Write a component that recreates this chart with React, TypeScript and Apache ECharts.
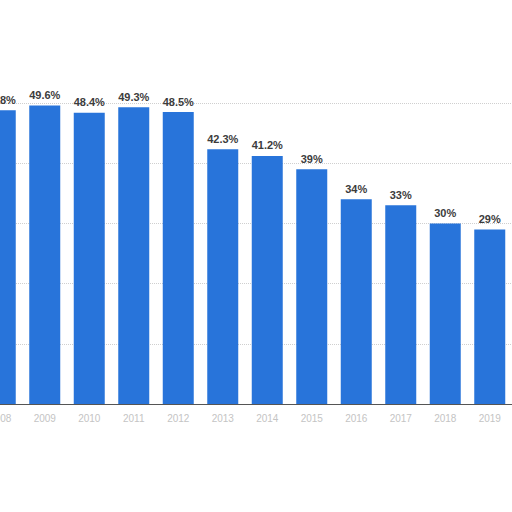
import React, { useEffect, useRef } from 'react';
import * as echarts from 'echarts';

// Share by year, percent
const years = ['2008', '2009', '2010', '2011', '2012', '2013', '2014', '2015', '2016', '2017', '2018', '2019'];
const shares = [48.8, 49.6, 48.4, 49.3, 48.5, 42.3, 41.2, 39, 34, 33, 30, 29];

export default function App() {
  const chartRef = useRef<HTMLDivElement>(null);

  useEffect(() => {
    if (!chartRef.current) return;
    const chart = echarts.init(chartRef.current, undefined, { renderer: 'svg' });

    chart.setOption({
      animation: false,
      grid: { left: 0, right: 0, top: 103, bottom: 108 },
      xAxis: {
        type: 'category',
        data: years,
        axisLine: { lineStyle: { color: '#555555', width: 1 } },
        axisTick: { show: false },
        axisLabel: {
          color: '#c4c4c4',
          fontSize: 10,
          fontFamily: 'Liberation Sans, Arial, sans-serif',
          margin: 9,
        },
      },
      yAxis: {
        type: 'value',
        min: 0,
        max: 50,
        interval: 10,
        axisLabel: { show: false },
        axisLine: { show: false },
        axisTick: { show: false },
        splitLine: { lineStyle: { color: '#cfcfcf', type: 'dotted', width: 1 } },
      },
      series: [
        {
          type: 'bar',
          data: shares,
          barWidth: 31,
          itemStyle: { color: '#2874da' },
          label: {
            show: true,
            position: 'top',
            distance: 5,
            color: '#3c3c3c',
            fontSize: 11,
            fontWeight: 'bold',
            fontFamily: 'Liberation Sans, Arial, sans-serif',
            formatter: (p: any) => `${p.value}%`,
          },
        },
      ],
    });

    return () => {
      chart.dispose();
    };
  }, []);

  return (
    <div
      style={{
        position: 'fixed',
        left: 0,
        top: 0,
        width: 512,
        height: 512,
        overflow: 'hidden',
        background: '#ffffff',
      }}
    >
      <div
        ref={chartRef}
        style={{ position: 'absolute', left: -22, top: 0, width: 534, height: 512 }}
      />
    </div>
  );
}
